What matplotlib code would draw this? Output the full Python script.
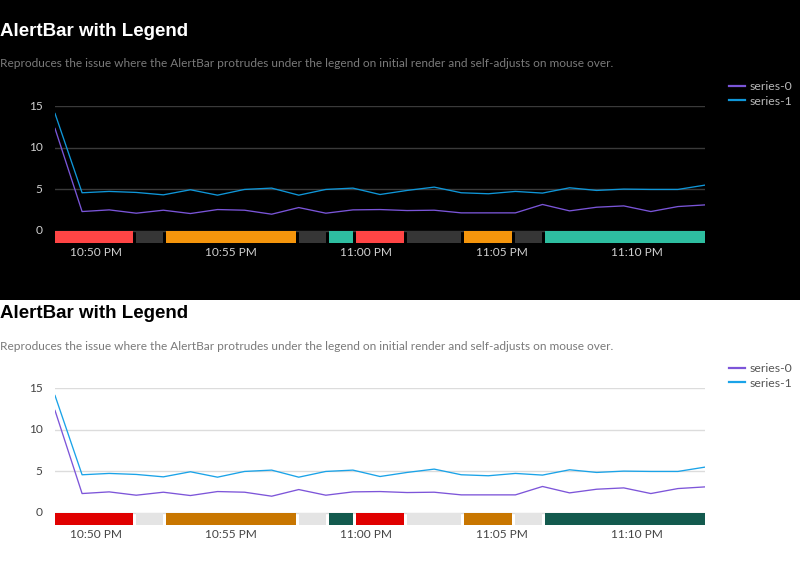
import matplotlib
matplotlib.use("Agg")
import matplotlib.pyplot as plt
import matplotlib.dates as mdates
from matplotlib.patches import Rectangle
import pandas as pd
import numpy as np

# ---- data ----
start_time = "2024-01-01 22:48:30"
n_points = 25
series_names = ["series-0", "series-1"]
series0 = [12.3, 2.3, 2.5, 2.1, 2.46, 2.06, 2.54, 2.46, 1.98, 2.78, 2.1, 2.5, 2.54,
           2.42, 2.46, 2.14, 2.14, 2.14, 3.15, 2.38, 2.82, 2.98, 2.3, 2.9, 3.1]
series1 = [14.1, 4.56, 4.72, 4.6, 4.31, 4.92, 4.27, 4.96, 5.12, 4.27, 4.96, 5.12, 4.35,
           4.84, 5.24, 4.56, 4.44, 4.72, 4.52, 5.16, 4.84, 5.0, 4.96, 4.96, 5.48]
# alert bar segments: start (minutes from first point) and status; last ends at 24
alert_start = [0, 3, 4.1, 9, 10.1, 11.1, 13, 15.1, 17, 18.1]
alert_last_end = 24
alert_status = ["critical", "unknown", "warning", "unknown", "ok",
                "critical", "unknown", "warning", "unknown", "ok"]
y_ticks = [0, 5, 10, 15]

title = "AlertBar with Legend"
subtitle = ("Reproduces the issue where the AlertBar protrudes under the legend "
            "on initial render and self-adjusts on mouse over.")

times = pd.date_range(start_time, periods=n_points, freq="min")
tnum = mdates.date2num(times.to_pydatetime())
minute = tnum[1] - tnum[0]

themes = {
    "dark": dict(bg="#000000", title="#ffffff", sub="#7a7a7a", tick="#d0d0d0",
                 grid="#3a3a3a", legend="#b8b8b8",
                 lines=["#7a55d8", "#0f96d8"],
                 status={"critical": "#ff4545", "unknown": "#363636",
                         "warning": "#f5950c", "ok": "#2ebea0"}),
    "light": dict(bg="#ffffff", title="#000000", sub="#7a7a7a", tick="#444444",
                  grid="#dcdcdc", legend="#555555",
                  lines=["#7d55d9", "#1aa3e8"],
                  status={"critical": "#e00000", "unknown": "#e4e4e4",
                          "warning": "#c87600", "ok": "#135a4e"}),
}

W, H = 800, 563
fig = plt.figure(figsize=(W / 100, H / 100), dpi=100, facecolor="white")
fig.patches.append(Rectangle((0, 1 - 300 / H), 1, 300 / H, transform=fig.transFigure,
                             facecolor="black", edgecolor="none", zorder=-10))

bar_h = 1.45
gap = minute * 0.11

for offset, key in [(0, "dark"), (282, "light")]:
    th = themes[key]
    # title & subtitle
    fig.text(0 / W, 1 - (31 + offset) / H, title, fontsize=13.5, fontweight="bold",
             family="Liberation Sans", color=th["title"], va="center", ha="left")
    fig.text(0 / W, 1 - (64 + offset) / H, subtitle, fontsize=8.6,
             family="Lato", color=th["sub"], va="center", ha="left")

    top_px = 105.6 + offset
    bot_px = 242.7 + offset
    ax = fig.add_axes([55 / W, 1 - bot_px / H, 650 / W, (bot_px - top_px) / H])
    ax.set_facecolor("none")
    for s in ax.spines.values():
        s.set_visible(False)
    ax.set_ylim(-bar_h, 15.05)
    ax.set_xlim(tnum[0], tnum[-1])
    ax.set_yticks(y_ticks)
    ax.grid(axis="y", color=th["grid"], linewidth=1.0, zorder=0)
    ax.grid(axis="x", visible=False)

    for vals, name, c in zip([series0, series1], series_names, th["lines"]):
        ax.plot(tnum, vals, color=c, linewidth=0.95, label=name, zorder=3)

    ends = alert_start[1:] + [alert_last_end]
    for i, (s, e, st) in enumerate(zip(alert_start, ends, alert_status)):
        x0 = tnum[0] + s * minute
        w = (e - s) * minute - (gap if i < len(alert_start) - 1 else 0)
        ax.broken_barh([(x0, w)], (-bar_h, bar_h), facecolors=th["status"][st],
                       edgecolor="none", zorder=2)

    ax.xaxis.set_major_locator(mdates.MinuteLocator(byminute=range(0, 60, 5)))
    ax.xaxis.set_major_formatter(mdates.DateFormatter("%I:%M %p"))
    ax.tick_params(axis="both", length=0, labelsize=8.6, colors=th["tick"])
    ax.tick_params(axis="y", pad=9)
    ax.tick_params(axis="x", pad=3)
    for lab in ax.get_xticklabels() + ax.get_yticklabels():
        lab.set_family("Lato")
    for lab in ax.get_yticklabels():
        lab.set_verticalalignment("center")

    leg = fig.legend(*ax.get_legend_handles_labels(), loc="upper left",
                     bbox_to_anchor=(729 / W, 1 - (81 + offset) / H),
                     frameon=False, handlelength=1.3, handletextpad=0.4,
                     labelspacing=0.3, borderpad=0, borderaxespad=0,
                     prop={"family": "Lato", "size": 8.8})
    for t in leg.get_texts():
        t.set_color(th["legend"])
    for l in leg.get_lines():
        l.set_linewidth(1.6)

fig.savefig("out.png", dpi=100, facecolor=fig.get_facecolor())
